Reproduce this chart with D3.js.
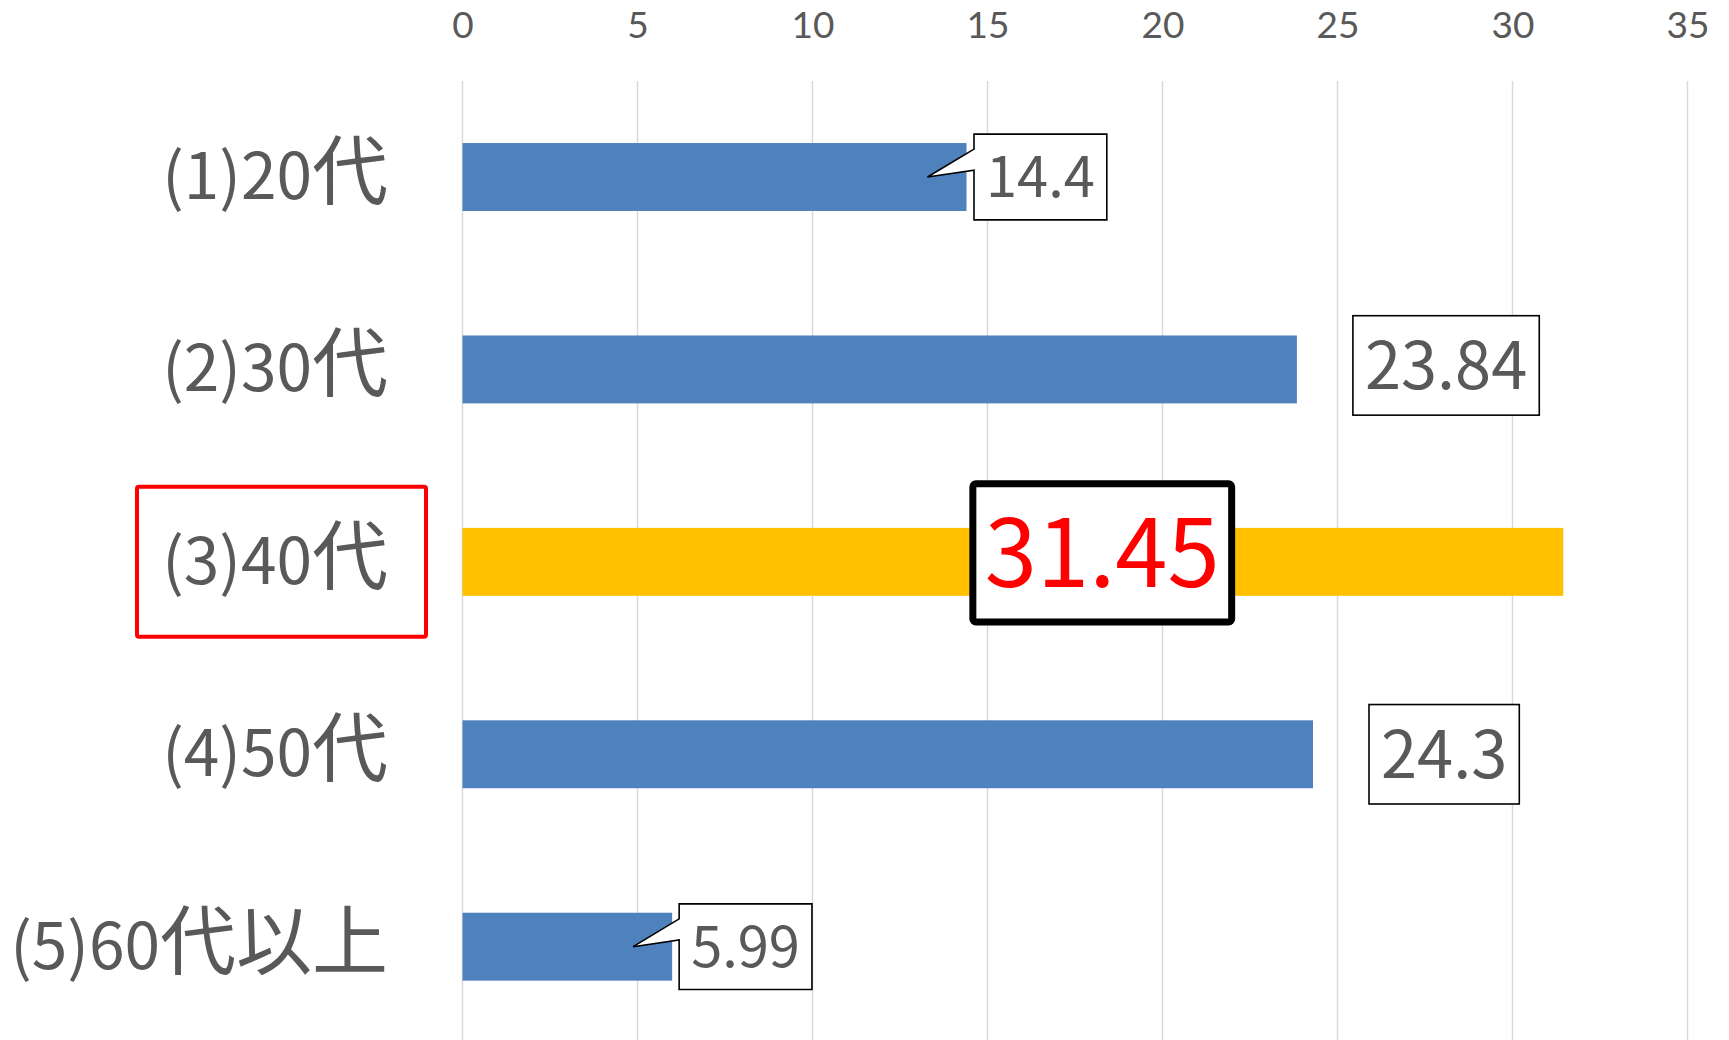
<!DOCTYPE html>
<html lang="ja">
<head>
<meta charset="utf-8">
<script src="https://cdn.jsdelivr.net/npm/d3@7"></script>
<style>
  html, body { margin: 0; padding: 0; background: #fff; }
  svg { display: block; }
  text { font-family: "Noto Sans CJK JP", "Noto Sans", sans-serif; }
</style>
</head>
<body>
<svg id="chart" width="1729" height="1040"></svg>
<script>
// Age groups and their values
const categories = ["(1)20代", "(2)30代", "(3)40代", "(4)50代", "(5)60代以上"];
const values = [14.4, 23.84, 31.45, 24.3, 5.99];
const tickValues = [0, 5, 10, 15, 20, 25, 30, 35];
const highlighted = "(3)40代";

// Label placement per bar (offset from bar end, px) and label style
const labelKind = ["callout", "box", "emph", "box", "callout"];
const labelDx = [7.5, 56, -461, 56, 7];
const labelDy = [0, -4, -9, 0, 0];
const labelSize = [56, 65, 94, 65, 56];

const W = 1729, H = 1040;
const svg = d3.select("#chart");

const x = d3.scaleLinear().domain([0, 35]).range([462.5, 1687.5]);
const y = d3.scaleBand().domain(categories).range([80.8, 1042.9])
  .paddingInner(0.647).paddingOuter(0.3235);

const grey = "#595959";

// vertical gridlines
svg.append("g").selectAll("line").data(tickValues).join("line")
  .attr("x1", d => x(d)).attr("x2", d => x(d))
  .attr("y1", 81).attr("y2", H)
  .attr("stroke", "#d9d9d9").attr("stroke-width", 1.5);

// top axis tick labels
const axis = d3.axisTop(x).tickValues(tickValues).tickSize(0).tickPadding(0);
const gAxis = svg.append("g").attr("transform", "translate(0,38)").call(axis);
gAxis.select(".domain").remove();
gAxis.selectAll("text")
  .attr("fill", grey)
  .style("font-size", "37px")
  .style("font-family", "Lato, 'Liberation Sans', sans-serif");

// bars
svg.append("g").selectAll("rect").data(categories).join("rect")
  .attr("x", x(0))
  .attr("y", d => y(d))
  .attr("width", (d, i) => x(values[i]) - x(0))
  .attr("height", y.bandwidth())
  .attr("fill", d => d === highlighted ? "#FFC000" : "#4F81BD");

// category labels: Latin part and CJK part set at different sizes
const splitLabel = s => {
  const m = s.match(/^([^\u3000-\u9fff]*)(.*)$/);
  return [m[1], m[2]];
};
const catText = svg.append("g").selectAll("text").data(categories).join("text")
  .attr("x", 388)
  .attr("y", d => y(d) + y.bandwidth() / 2 + 22)
  .attr("text-anchor", "end")
  .attr("fill", grey);
catText.append("tspan").style("font-size", "64px").text(d => splitLabel(d)[0]);
catText.append("tspan").style("font-size", "76px").text(d => splitLabel(d)[1]);

// frame around the highlighted category
{
  const cy = y(highlighted) + y.bandwidth() / 2;
  svg.append("rect")
    .attr("x", 137).attr("y", cy - 75)
    .attr("width", 289).attr("height", 150)
    .attr("rx", 2)
    .attr("fill", "none").attr("stroke", "#FF0000").attr("stroke-width", 4);
}

// value labels
const gLab = svg.append("g");
categories.forEach((c, i) => {
  const cy = y(c) + y.bandwidth() / 2;
  const xe = x(values[i]);
  const kind = labelKind[i];
  const fs = labelSize[i];
  const g = gLab.append("g");
  const t = g.append("text")
    .attr("dy", "0.36em")
    .attr("text-anchor", "middle")
    .attr("fill", kind === "emph" ? "#FF0000" : grey)
    .style("font-size", fs + "px")
    .text(values[i]);
  const tw = t.node().getComputedTextLength();
  const padX = 12;
  const bw = tw + 2 * padX;
  const bh = fs * (kind === "emph" ? 1.47 : 1.53);
  let bx, by = cy + labelDy[i] - bh / 2;
  if (kind === "emph") {
    const cx = xe + labelDx[i];
    bx = cx - bw / 2;
  } else {
    bx = xe + labelDx[i];
  }
  t.attr("x", bx + bw / 2).attr("y", by + bh / 2);
  if (kind === "callout") {
    const tipX = xe - 39;
    const p = d3.path();
    p.moveTo(bx, by);
    p.lineTo(bx + bw, by);
    p.lineTo(bx + bw, by + bh);
    p.lineTo(bx, by + bh);
    p.lineTo(bx, by + 36);
    p.lineTo(tipX, cy);
    p.lineTo(bx, by + 15);
    p.closePath();
    g.insert("path", "text").attr("d", p.toString())
      .attr("fill", "#fff").attr("stroke", "#000").attr("stroke-width", 1.6)
      .attr("stroke-linejoin", "miter");
  } else {
    g.insert("rect", "text")
      .attr("x", bx).attr("y", by).attr("width", bw).attr("height", bh)
      .attr("rx", kind === "emph" ? 3 : 0)
      .attr("fill", "#fff").attr("stroke", "#000")
      .attr("stroke-width", kind === "emph" ? 7 : 1.6);
  }
});
</script>
</body>
</html>
